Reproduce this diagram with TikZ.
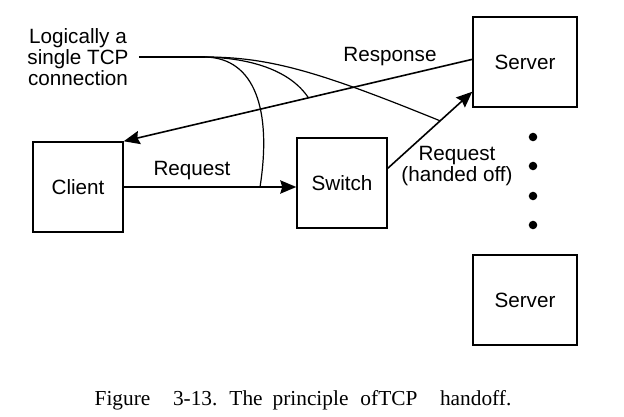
\documentclass[tikz,border=0pt]{standalone}
\usepackage{fontspec}
\setmainfont{Liberation Serif}
\newfontfamily\diafont{Liberation Sans}
\usetikzlibrary{arrows.meta}

\begin{document}
\begin{tikzpicture}[x=0.75pt,y=-0.75pt,
        box/.style={draw, line width=1.1pt, minimum width=67.5pt, minimum height=67.5pt,
            font=\diafont\fontsize{15.5}{16}\selectfont},
        lbl/.style={font=\diafont\fontsize{15.5}{16}\selectfont, align=center, inner sep=0pt},
        arr/.style={line width=1.2pt, -{Stealth[length=12pt,width=10pt,inset=1.5pt]}},
        link/.style={line width=0.9pt}]
            \useasboundingbox (0,0) rectangle (624,417);
            \node[box] (client) at (78,187) {Client};
            \node[box] (switch) at (342,183) {Switch};
            \node[box, minimum width=78pt] (srv1) at (525,62) {Server};
            \node[box, minimum width=78pt] (srv2) at (525,300) {Server};
            \foreach \y in {137,166,196,225}
                \fill (533,\y) circle (3.2pt);
            \draw[arr] (client.east) -- coordinate[pos=0.79] (reqpt) (client.east -| switch.west);
            \draw[arr] ([yshift=2pt]srv1.west) -- coordinate[pos=0.47] (resppt) (client.north east);
            \draw[arr] ([yshift=11pt]switch.east) -- coordinate[pos=0.62] (hopt) ([yshift=12pt]srv1.south west);
            \node[lbl] (reqlbl) at (192,171) {Request};
            \node[lbl] (resplbl) at (390,57) {Response};
            \node[lbl] (holbl) at (457,166) {Request\\(handed off)};
            \node[lbl] (tcp) at (78,57) {Logically a\\single TCP\\connection};
            % one connection, three legs
            \coordinate (fork) at (205,57);
            \draw[link] ([xshift=7.5pt]tcp.east) -- (fork);
            \draw[link] (fork) .. controls (255,58) and (272,110) .. (reqpt);
            \draw[link] (fork) .. controls (250,58) and (290,70) .. (resppt);
            \draw[link] (fork) .. controls (270,57) and (320,72) .. (hopt);
            \node[font=\fontsize{16}{18}\selectfont, inner sep=0pt] (caption) at (303,400)
                {Figure\hspace{17pt}3-13.\hspace{9pt}The\hspace{7.5pt}principle\hspace{9pt}ofTCP\hspace{17pt}handoff.};
\end{tikzpicture}
\end{document}
